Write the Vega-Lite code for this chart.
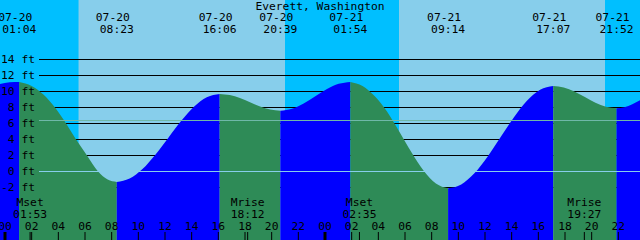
{
  "$schema": "https://vega.github.io/schema/vega-lite/v6.json",
  "width": 640,
  "height": 240,
  "padding": 0,
  "autosize": {"type": "none"},
  "background": "#87CEEB",
  "config": {"view": {"stroke": null}},
  "datasets": {
    "sky": [
      {"start": -0.375, "end": 5.53, "phase": "night"},
      {"start": 5.53, "end": 21.0, "phase": "day"},
      {"start": 21.0, "end": 29.55, "phase": "night"},
      {"start": 29.55, "end": 45.0, "phase": "day"},
      {"start": 45.0, "end": 47.625, "phase": "night"}
    ],
    "levels": [
      {"level": -2, "label": "-2 ft"}, {"level": 0, "label": "0 ft"}, {"level": 2, "label": "2 ft"},
      {"level": 4, "label": "4 ft"}, {"level": 6, "label": "6 ft"}, {"level": 8, "label": "8 ft"},
      {"level": 10, "label": "10 ft"}, {"level": 12, "label": "12 ft"}, {"level": 14, "label": "14 ft"}
    ],
    "marks": [
      {"level": 6.375, "kind": "msl"},
      {"level": 0, "kind": "datum"}
    ],
    "hours": [
      {"t": 0, "label": "00", "kind": "mid"}, {"t": 2, "label": "02", "kind": "hour"},
      {"t": 4, "label": "04", "kind": "hour"}, {"t": 6, "label": "06", "kind": "hour"},
      {"t": 8, "label": "08", "kind": "hour"}, {"t": 10, "label": "10", "kind": "hour"},
      {"t": 12, "label": "12", "kind": "hour"}, {"t": 14, "label": "14", "kind": "hour"},
      {"t": 16, "label": "16", "kind": "hour"}, {"t": 18, "label": "18", "kind": "hour"},
      {"t": 20, "label": "20", "kind": "hour"}, {"t": 22, "label": "22", "kind": "hour"},
      {"t": 24, "label": "00", "kind": "mid"}, {"t": 26, "label": "02", "kind": "hour"},
      {"t": 28, "label": "04", "kind": "hour"}, {"t": 30, "label": "06", "kind": "hour"},
      {"t": 32, "label": "08", "kind": "hour"}, {"t": 34, "label": "10", "kind": "hour"},
      {"t": 36, "label": "12", "kind": "hour"}, {"t": 38, "label": "14", "kind": "hour"},
      {"t": 40, "label": "16", "kind": "hour"}, {"t": 42, "label": "18", "kind": "hour"},
      {"t": 44, "label": "20", "kind": "hour"}, {"t": 46, "label": "22", "kind": "hour"}
    ],
    "tide": [
      {"t": -0.375, "ft": 10.95, "seg": "s0", "dir": "rise"},
      {"t": 0.35, "ft": 11.15, "seg": "s0", "dir": "rise"},
      {"t": 1.067, "ft": 11.2, "seg": "s0", "dir": "rise"},
      {"t": 1.067, "ft": 11.2, "seg": "s1", "dir": "fall"},
      {"t": 2.0, "ft": 10.7, "seg": "s1", "dir": "fall"},
      {"t": 2.9, "ft": 9.6, "seg": "s1", "dir": "fall"},
      {"t": 3.75, "ft": 8.0, "seg": "s1", "dir": "fall"},
      {"t": 4.58, "ft": 6.0, "seg": "s1", "dir": "fall"},
      {"t": 5.33, "ft": 4.0, "seg": "s1", "dir": "fall"},
      {"t": 6.15, "ft": 2.0, "seg": "s1", "dir": "fall"},
      {"t": 6.98, "ft": 0.0, "seg": "s1", "dir": "fall"},
      {"t": 7.7, "ft": -1.0, "seg": "s1", "dir": "fall"},
      {"t": 8.383, "ft": -1.3, "seg": "s1", "dir": "fall"},
      {"t": 8.383, "ft": -1.3, "seg": "s2", "dir": "rise"},
      {"t": 9.348, "ft": -0.88, "seg": "s2", "dir": "rise"},
      {"t": 10.312, "ft": 0.31, "seg": "s2", "dir": "rise"},
      {"t": 11.277, "ft": 2.1, "seg": "s2", "dir": "rise"},
      {"t": 12.242, "ft": 4.2, "seg": "s2", "dir": "rise"},
      {"t": 13.206, "ft": 6.3, "seg": "s2", "dir": "rise"},
      {"t": 14.171, "ft": 8.09, "seg": "s2", "dir": "rise"},
      {"t": 15.135, "ft": 9.28, "seg": "s2", "dir": "rise"},
      {"t": 16.1, "ft": 9.7, "seg": "s2", "dir": "rise"},
      {"t": 16.1, "ft": 9.7, "seg": "s3", "dir": "fall"},
      {"t": 16.858, "ft": 9.56, "seg": "s3", "dir": "fall"},
      {"t": 17.617, "ft": 9.18, "seg": "s3", "dir": "fall"},
      {"t": 18.375, "ft": 8.65, "seg": "s3", "dir": "fall"},
      {"t": 19.133, "ft": 8.13, "seg": "s3", "dir": "fall"},
      {"t": 19.892, "ft": 7.74, "seg": "s3", "dir": "fall"},
      {"t": 20.65, "ft": 7.6, "seg": "s3", "dir": "fall"},
      {"t": 20.65, "ft": 7.6, "seg": "s4", "dir": "rise"},
      {"t": 21.525, "ft": 7.84, "seg": "s4", "dir": "rise"},
      {"t": 22.4, "ft": 8.5, "seg": "s4", "dir": "rise"},
      {"t": 23.275, "ft": 9.4, "seg": "s4", "dir": "rise"},
      {"t": 24.15, "ft": 10.3, "seg": "s4", "dir": "rise"},
      {"t": 25.025, "ft": 10.96, "seg": "s4", "dir": "rise"},
      {"t": 25.9, "ft": 11.2, "seg": "s4", "dir": "rise"},
      {"t": 25.9, "ft": 11.2, "seg": "s5", "dir": "fall"},
      {"t": 26.817, "ft": 10.69, "seg": "s5", "dir": "fall"},
      {"t": 27.733, "ft": 9.4, "seg": "s5", "dir": "fall"},
      {"t": 28.65, "ft": 7.5, "seg": "s5", "dir": "fall"},
      {"t": 29.567, "ft": 5.0, "seg": "s5", "dir": "fall"},
      {"t": 30.483, "ft": 2.4, "seg": "s5", "dir": "fall"},
      {"t": 31.4, "ft": 0.1, "seg": "s5", "dir": "fall"},
      {"t": 32.317, "ft": -1.5, "seg": "s5", "dir": "fall"},
      {"t": 33.233, "ft": -2.1, "seg": "s5", "dir": "fall"},
      {"t": 33.233, "ft": -2.1, "seg": "s6", "dir": "rise"},
      {"t": 34.219, "ft": -1.61, "seg": "s6", "dir": "rise"},
      {"t": 35.204, "ft": -0.23, "seg": "s6", "dir": "rise"},
      {"t": 36.19, "ft": 1.85, "seg": "s6", "dir": "rise"},
      {"t": 37.175, "ft": 4.3, "seg": "s6", "dir": "rise"},
      {"t": 38.16, "ft": 6.75, "seg": "s6", "dir": "rise"},
      {"t": 39.146, "ft": 8.83, "seg": "s6", "dir": "rise"},
      {"t": 40.131, "ft": 10.21, "seg": "s6", "dir": "rise"},
      {"t": 41.117, "ft": 10.7, "seg": "s6", "dir": "rise"},
      {"t": 41.117, "ft": 10.7, "seg": "s7", "dir": "fall"},
      {"t": 41.908, "ft": 10.51, "seg": "s7", "dir": "fall"},
      {"t": 42.7, "ft": 10.0, "seg": "s7", "dir": "fall"},
      {"t": 43.492, "ft": 9.3, "seg": "s7", "dir": "fall"},
      {"t": 44.283, "ft": 8.6, "seg": "s7", "dir": "fall"},
      {"t": 45.075, "ft": 8.09, "seg": "s7", "dir": "fall"},
      {"t": 45.867, "ft": 7.9, "seg": "s7", "dir": "fall"},
      {"t": 45.867, "ft": 7.9, "seg": "s8", "dir": "rise"},
      {"t": 46.45, "ft": 8.03, "seg": "s8", "dir": "rise"},
      {"t": 47.05, "ft": 8.4, "seg": "s8", "dir": "rise"},
      {"t": 47.625, "ft": 8.9, "seg": "s8", "dir": "rise"}
    ],
    "events": [
      {"t": 1.067, "date": "07-20", "time": "01:04"},
      {"t": 8.383, "date": "07-20", "time": "08:23"},
      {"t": 16.1, "date": "07-20", "time": "16:06"},
      {"t": 20.65, "date": "07-20", "time": "20:39"},
      {"t": 25.9, "date": "07-21", "time": "01:54"},
      {"t": 33.233, "date": "07-21", "time": "09:14"},
      {"t": 41.117, "date": "07-21", "time": "17:07"},
      {"t": 45.867, "date": "07-21", "time": "21:52"}
    ],
    "moon": [
      {"t": 1.883, "name": "Mset", "time": "01:53"},
      {"t": 18.2, "name": "Mrise", "time": "18:12"},
      {"t": 26.583, "name": "Mset", "time": "02:35"},
      {"t": 43.45, "name": "Mrise", "time": "19:27"}
    ],
    "title": [
      {"t": 23.625, "text": "Everett, Washington"}
    ]
  },
  "encoding": {
    "x": {"type": "quantitative", "scale": {"domain": [-0.375, 47.625], "nice": false, "zero": false}, "axis": null},
    "y": {"type": "quantitative", "scale": {"domain": [-8.5625, 21.4375], "nice": false, "zero": false}, "axis": null}
  },
  "layer": [
    {
      "data": {"name": "sky"},
      "mark": {"type": "rect", "strokeWidth": 0},
      "encoding": {
        "x": {"field": "start", "type": "quantitative"},
        "x2": {"field": "end"},
        "y": {"datum": 21.4375, "type": "quantitative"},
        "y2": {"datum": -8.5625},
        "color": {"field": "phase", "type": "nominal", "scale": {"domain": ["night", "day"], "range": ["#00BFFF", "#87CEEB"]}, "legend": null}
      }
    },
    {
      "data": {"name": "levels"},
      "mark": {"type": "rule", "color": "#000000", "strokeWidth": 1},
      "encoding": {
        "y": {"field": "level", "type": "quantitative"},
        "x": {"datum": 2.55, "type": "quantitative"},
        "x2": {"datum": 47.625}
      }
    },
    {
      "data": {"name": "tide"},
      "mark": {"type": "area", "interpolate": "monotone"},
      "encoding": {
        "x": {"field": "t", "type": "quantitative"},
        "y": {"field": "ft", "type": "quantitative", "stack": null},
        "y2": {"datum": -8.5625},
        "color": {"field": "dir", "type": "nominal", "scale": {"domain": ["rise", "fall"], "range": ["#0000FF", "#2E8B57"]}, "legend": null},
        "detail": {"field": "seg", "type": "nominal"}
      }
    },
    {
      "data": {"name": "marks"},
      "mark": {"type": "rule", "strokeWidth": 1},
      "encoding": {
        "y": {"field": "level", "type": "quantitative"},
        "x": {"datum": 2.55, "type": "quantitative"},
        "x2": {"datum": 47.625},
        "color": {"field": "kind", "type": "nominal", "scale": {"domain": ["msl", "datum"], "range": ["#6FB8A8", "#87CEEB"]}, "legend": null}
      }
    },
    {
      "data": {"name": "hours"},
      "mark": {"type": "rule", "color": "#000000"},
      "encoding": {
        "x": {"field": "t", "type": "quantitative"},
        "y": {"datum": -8.5625, "type": "quantitative"},
        "y2": {"datum": -7.5625},
        "strokeWidth": {"field": "kind", "type": "nominal", "scale": {"domain": ["hour", "mid"], "range": [1, 3]}, "legend": null}
      }
    },
    {
      "data": {"name": "moon"},
      "mark": {"type": "rule", "color": "#000000", "strokeWidth": 1},
      "encoding": {
        "x": {"field": "t", "type": "quantitative"},
        "y": {"datum": -8.5625, "type": "quantitative"},
        "y2": {"datum": -7.5625}
      }
    },
    {
      "data": {"name": "hours"},
      "mark": {"type": "text", "font": "DejaVu Sans Mono", "fontSize": 11.3, "color": "#000000", "align": "center", "baseline": "alphabetic"},
      "encoding": {
        "x": {"field": "t", "type": "quantitative"},
        "y": {"datum": -7.25, "type": "quantitative"},
        "text": {"field": "label"}
      }
    },
    {
      "data": {"name": "levels"},
      "mark": {"type": "text", "font": "DejaVu Sans Mono", "fontSize": 11.3, "color": "#000000", "align": "right", "baseline": "middle"},
      "encoding": {
        "x": {"datum": 2.25, "type": "quantitative"},
        "y": {"field": "level", "type": "quantitative"},
        "text": {"field": "label"}
      }
    },
    {
      "data": {"name": "events"},
      "mark": {"type": "text", "font": "DejaVu Sans Mono", "fontSize": 11.3, "color": "#000000", "align": "center", "baseline": "alphabetic", "dx": -4},
      "encoding": {
        "x": {"field": "t", "type": "quantitative"},
        "y": {"datum": 18.81, "type": "quantitative"},
        "text": {"field": "date"}
      }
    },
    {
      "data": {"name": "events"},
      "mark": {"type": "text", "font": "DejaVu Sans Mono", "fontSize": 11.3, "color": "#000000", "align": "center", "baseline": "alphabetic"},
      "encoding": {
        "x": {"field": "t", "type": "quantitative"},
        "y": {"datum": 17.28, "type": "quantitative"},
        "text": {"field": "time"}
      }
    },
    {
      "data": {"name": "moon"},
      "mark": {"type": "text", "font": "DejaVu Sans Mono", "fontSize": 11.3, "color": "#000000", "align": "center", "baseline": "alphabetic"},
      "encoding": {
        "x": {"field": "t", "type": "quantitative"},
        "y": {"datum": -4.31, "type": "quantitative"},
        "text": {"field": "name"}
      }
    },
    {
      "data": {"name": "moon"},
      "mark": {"type": "text", "font": "DejaVu Sans Mono", "fontSize": 11.3, "color": "#000000", "align": "center", "baseline": "alphabetic"},
      "encoding": {
        "x": {"field": "t", "type": "quantitative"},
        "y": {"datum": -5.77, "type": "quantitative"},
        "text": {"field": "time"}
      }
    },
    {
      "data": {"name": "title"},
      "mark": {"type": "text", "font": "DejaVu Sans Mono", "fontSize": 11.3, "color": "#000000", "align": "center", "baseline": "alphabetic"},
      "encoding": {
        "x": {"field": "t", "type": "quantitative"},
        "y": {"datum": 20.25, "type": "quantitative"},
        "text": {"field": "text"}
      }
    }
  ],
  "resolve": {"scale": {"color": "independent"}}
}
